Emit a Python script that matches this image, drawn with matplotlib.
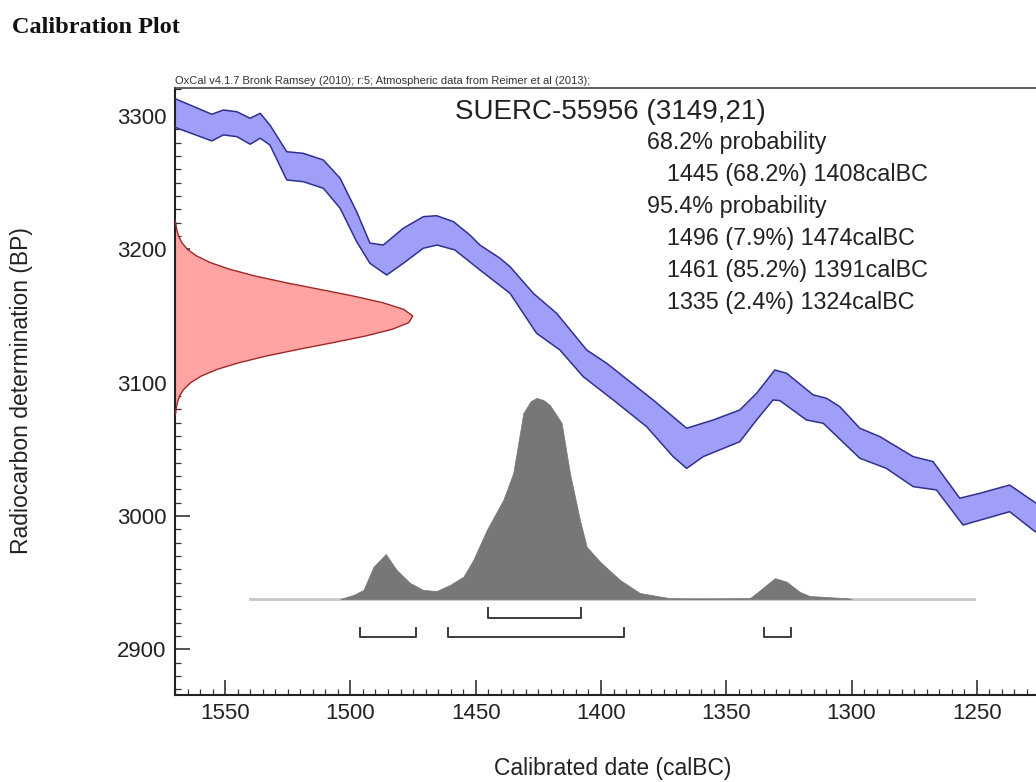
import matplotlib
matplotlib.use("Agg")
import matplotlib.pyplot as plt
from matplotlib.ticker import MultipleLocator
import numpy as np

plt.rcParams['font.family'] = ['Liberation Sans', 'DejaVu Sans']

# calibration curve band (calBC, BP) - upper and lower edges
upper_year = [1575, 1555.3, 1550.7, 1545.3, 1540.0, 1536.0, 1532.1, 1525.4, 1518.8, 1510.8,
              1504.1, 1497.5, 1492.2, 1486.9, 1478.9, 1470.9, 1465.6, 1458.9, 1452.3, 1448.3,
              1440.3, 1436.3, 1427.0, 1417.7, 1405.7, 1397.7, 1379.2, 1365.8, 1355.2, 1344.6,
              1337.9, 1330.6, 1325.9, 1315.3, 1310.0, 1304.7, 1296.7, 1288.7, 1275.4, 1267.5,
              1256.8, 1248.8, 1236.9, 1230.2, 1226.5, 1218]
upper_bp = [3317, 3301.3, 3304.5, 3303.2, 3298.3, 3302.0, 3293.2, 3273.2, 3272.0, 3267.0,
            3253.3, 3228.2, 3204.7, 3203.2, 3215.8, 3224.5, 3225.2, 3220.8, 3210.7, 3203.2,
            3193.3, 3187.0, 3167.0, 3152.0, 3124.5, 3114.5, 3087.0, 3065.8, 3072.0, 3079.5,
            3092.0, 3109.5, 3107.0, 3090.8, 3088.3, 3082.0, 3065.8, 3059.5, 3044.5, 3040.8,
            3013.3, 3017.0, 3023.2, 3014.5, 3009.8, 3003]
lower_year = [1575, 1555.3, 1550.7, 1545.3, 1540.0, 1536.0, 1532.1, 1525.4, 1518.8, 1510.8,
              1504.1, 1497.5, 1492.2, 1485.5, 1478.9, 1470.9, 1465.4, 1458.3, 1448.3, 1436.3,
              1425.7, 1416.4, 1407.1, 1395.1, 1381.8, 1371.2, 1365.8, 1359.2, 1344.6, 1337.9,
              1331.3, 1328.6, 1318.0, 1311.3, 1296.7, 1286.1, 1275.4, 1266.1, 1255.5, 1246.2,
              1236.9, 1227.6, 1226.5, 1218]
lower_bp = [3295, 3281.3, 3285.8, 3284.5, 3278.8, 3283.3, 3278.2, 3252.0, 3250.7, 3245.8,
            3230.8, 3205.7, 3189.5, 3180.7, 3189.5, 3200.8, 3203.2, 3199.5, 3184.5, 3167.0,
            3137.0, 3124.5, 3104.5, 3087.0, 3067.0, 3044.5, 3035.7, 3044.5, 3055.7, 3072.0,
            3087.0, 3086.5, 3072.0, 3069.5, 3043.3, 3035.7, 3022.0, 3019.5, 2993.2, 2998.2,
            3003.2, 2989.5, 2988.0, 2983]

# radiocarbon measurement distribution (BP, relative probability)
meas_bp = [3222, 3220, 3215, 3210, 3205, 3200, 3195, 3190, 3185, 3180, 3175, 3170, 3165, 3160,
           3155, 3150, 3145, 3140, 3135, 3130, 3125, 3120, 3115, 3110, 3105, 3100, 3095,
           3090, 3085, 3080, 3077, 3076]
meas_p = [0.0, 0.003, 0.007, 0.015, 0.029, 0.052, 0.091, 0.149, 0.230, 0.336, 0.465, 0.607,
          0.748, 0.872, 0.960, 0.999, 0.982, 0.912, 0.801, 0.664, 0.520, 0.385, 0.270, 0.178,
          0.111, 0.066, 0.037, 0.019, 0.010, 0.0045, 0.003, 0.0]

# calibrated date distribution (calBC, relative probability)
cal_year = [1504.1, 1498.8, 1494.8, 1490.8, 1485.9, 1481.5, 1476.2, 1470.9, 1465.6, 1460.3,
            1454.9, 1451.0, 1445.6, 1439.0, 1435.0, 1431.0, 1428.0, 1425.7, 1423.0, 1420.4,
            1415.7, 1412.4, 1408.4, 1405.7, 1400.4, 1392.4, 1384.5, 1372.5, 1360.5, 1340.6,
            1337.3, 1330.6, 1325.9, 1320.7, 1316.7, 1302.0, 1300]
cal_p = [0.0, 0.020, 0.045, 0.160, 0.224, 0.144, 0.080, 0.045, 0.040, 0.070,
         0.111, 0.194, 0.343, 0.493, 0.627, 0.925, 0.985, 1.0, 0.990, 0.965,
         0.876, 0.627, 0.393, 0.260, 0.186, 0.095, 0.030, 0.004, 0.003, 0.004,
         0.036, 0.104, 0.086, 0.036, 0.015, 0.004, 0.0]
cal_range = [1540, 1251]

name = "SUERC-55956"
date_bp, date_err = 3149, 21
ranges_68 = [(1445, 1408, 68.2)]
ranges_95 = [(1496, 1474, 7.9), (1461, 1391, 85.2), (1335, 1324, 2.4)]

fig = plt.figure(figsize=(10.36, 7.82), dpi=100)
ax = fig.add_axes([175 / 1036, 1 - 695 / 782, 877 / 1036, 607 / 782])
ax.set_xlim(1570, 1220)
ax.set_ylim(2865.7, 3321)

# calibration curve
ax.fill(upper_year + lower_year[::-1], upper_bp + lower_bp[::-1],
        facecolor='#9f9ff7', edgecolor='none', zorder=2)
ax.plot(upper_year, upper_bp, color='#303090', lw=1.1, zorder=3, solid_joinstyle='round')
ax.plot(lower_year, lower_bp, color='#303090', lw=1.1, zorder=3, solid_joinstyle='round')

# measurement on the y axis
xl = ax.get_xlim()[0]
red_x = [xl - p * 95 for p in meas_p]
ax.fill_betweenx(meas_bp, xl, red_x, facecolor='#ffa3a3', edgecolor='none', zorder=2)
ax.plot(red_x, meas_bp, color='#a02828', lw=1.0, zorder=3, solid_joinstyle='round')

# calibrated distribution
base = 2937.7
ax.plot(cal_range, [base, base], color='#c8c8c8', lw=2, zorder=1)
ax.fill_between(cal_year, base, [base + p * 150.8 for p in cal_p],
                facecolor='#777777', edgecolor='#777777', lw=0.5, zorder=2)

# range brackets
for s, e, _ in ranges_68:
    ax.plot([s, s, e, e], [base - 6.8, base - 14.3, base - 14.3, base - 6.8],
            color='#3c3c3c', lw=1.4, zorder=3)
for s, e, _ in ranges_95:
    ax.plot([s, s, e, e], [base - 21.9, base - 28.2, base - 28.2, base - 21.9],
            color='#3c3c3c', lw=1.4, zorder=3)

# axes styling
ax.xaxis.set_major_locator(MultipleLocator(50))
ax.xaxis.set_minor_locator(MultipleLocator(5))
ax.yaxis.set_major_locator(MultipleLocator(100))
ax.yaxis.set_minor_locator(MultipleLocator(10))
ax.tick_params(which='major', direction='in', length=11, width=1.1, labelsize=16,
               colors='#222222', pad=6, top=False, right=False)
ax.tick_params(which='minor', direction='in', length=4, width=0.9, colors='#333333',
               top=False, right=False)
for sp in ['left', 'bottom']:
    ax.spines[sp].set_linewidth(1.5)
    ax.spines[sp].set_color('#222222')
ax.spines['top'].set_linewidth(1.2)
ax.spines['top'].set_color('#444444')
ax.spines['right'].set_visible(False)

ax.text(0.0, 1.003, "OxCal v4.1.7 Bronk Ramsey (2010); r:5; Atmospheric data from Reimer et al (2013);",
        transform=ax.transAxes, fontsize=8, color='#333333', ha='left', va='bottom')

ax.text(0.3193, 0.9605, f"{name} ({date_bp},{date_err})", transform=ax.transAxes,
        fontsize=20, color='#222222', ha='left', va='center')

lines = [("68.2% probability", 0)]
lines += [(f"{s} ({p}%) {e}calBC", 1) for s, e, p in ranges_68]
lines += [("95.4% probability", 0)]
lines += [(f"{s} ({p}%) {e}calBC", 1) for s, e, p in ranges_95]
for i, (txt, ind) in enumerate(lines):
    ax.text(0.538 + 0.0228 * ind, 0.9094 - 0.0527 * i, txt, transform=ax.transAxes,
            fontsize=16.8, color='#222222', ha='left', va='center')

fig.text(12 / 1036, 1 - 33 / 782, "Calibration Plot", family=['Liberation Serif'],
         fontweight='bold', fontsize=17.5, ha='left', va='baseline', color='#111111')
fig.text(613 / 1036, 1 - 768 / 782, "Calibrated date (calBC)", fontsize=16.5,
         ha='center', va='center', color='#222222')
fig.text(22 / 1036, 1 - 391 / 782, "Radiocarbon determination (BP)", fontsize=16.5,
         rotation=90, ha='center', va='center', color='#222222')

fig.savefig("out.png", dpi=100)
